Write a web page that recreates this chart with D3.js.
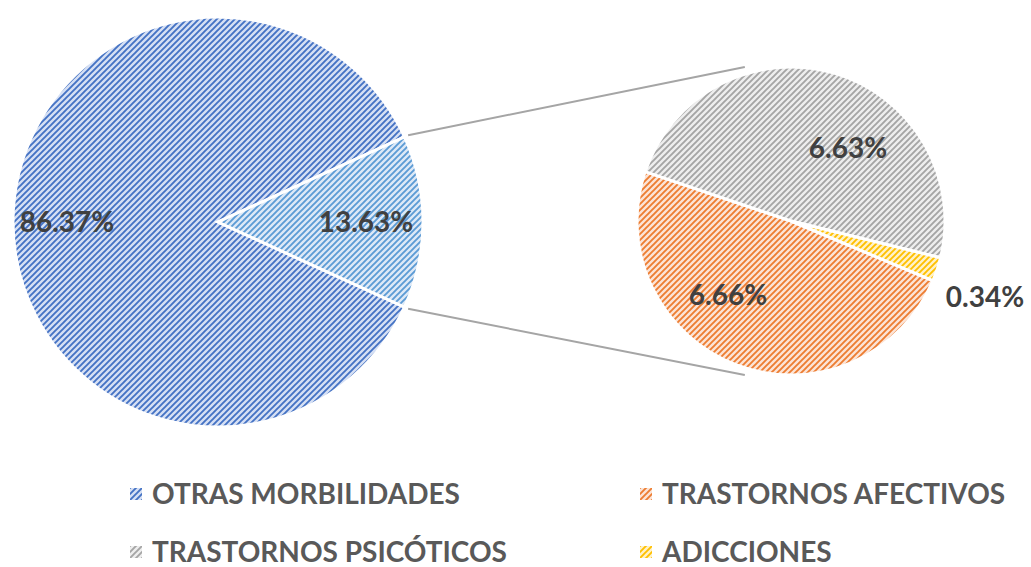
<!DOCTYPE html>
<html>
<head>
<meta charset="utf-8">
<script src="https://cdn.jsdelivr.net/npm/d3@7"></script>
<style>
  body { margin: 0; background: #fff; }
  svg text { font-family: Lato, "Open Sans", sans-serif; font-weight: bold; }
</style>
</head>
<body>
<script>
// main pie
const mainLabels = ["OTRAS MORBILIDADES", "SALUD MENTAL"];
const mainValues = [86.37, 13.63];
// second pie (breakdown of 13.63%)
const subLabels = ["TRASTORNOS AFECTIVOS", "TRASTORNOS PSICÓTICOS", "ADICCIONES"];
const subValues = [6.66, 6.63, 0.34];
const legendLabels = ["OTRAS MORBILIDADES", "TRASTORNOS AFECTIVOS", "TRASTORNOS PSICÓTICOS", "ADICCIONES"];

const width = 1031, height = 567;
const svg = d3.select("body").append("svg")
  .attr("width", width)
  .attr("height", height);

// pattern: fg colour lines on a light bg, "wide upward diagonal"
const patterns = [
  {id: "p-blue",  fg: "#4472c4", bg: "#d6e0f4"},
  {id: "p-lblue", fg: "#5b9bd5", bg: "#dde9f7"},
  {id: "p-orange",fg: "#ed7d31", bg: "#fce4d6"},
  {id: "p-gray",  fg: "#a5a5a5", bg: "#eeeeee"},
  {id: "p-yellow",fg: "#ffc000", bg: "#fff2c8"}
];
const defs = svg.append("defs");
patterns.forEach(p => {
  let pat = defs.append("pattern")
    .attr("id", p.id)
    .attr("patternUnits", "userSpaceOnUse")
    .attr("width", 6).attr("height", 6);
  pat.append("rect").attr("width", 6).attr("height", 6).attr("fill", p.bg);
  pat.append("path")
    .attr("d", "M-1,1 l2,-2 M0,6 l6,-6 M5,7 l2,-2")
    .attr("stroke", p.fg)
    .attr("stroke-width", 1.9);
});

const mainC = {x: 218, y: 222, r: 205};
const subC = {x: 791, y: 221, r: 154};
const deg = Math.PI / 180;

// main pie, small slice centred on the right
const mainSmallAngle = 2 * Math.PI * mainValues[1] / d3.sum(mainValues);
const mainPie = d3.pie().sort(null)
  .startAngle(Math.PI / 2 + mainSmallAngle / 2)
  .endAngle(Math.PI / 2 + mainSmallAngle / 2 + 2 * Math.PI);
const mainArc = d3.arc().innerRadius(0).outerRadius(mainC.r);

const gMain = svg.append("g").attr("transform", `translate(${mainC.x},${mainC.y})`);
gMain.selectAll("path")
  .data(mainPie(mainValues))
  .enter().append("path")
  .attr("d", mainArc)
  .attr("fill", (d, i) => `url(#${i == 0 ? "p-blue" : "p-lblue"})`)
  .attr("stroke", "#fff")
  .attr("stroke-width", 3);

// second pie
const subStart = 112.8 * deg;
const subPie = d3.pie().sort(null)
  .startAngle(subStart)
  .endAngle(subStart + 2 * Math.PI);
const subArcs = subPie(subValues);
const subArc = d3.arc().innerRadius(0).outerRadius(subC.r);
const subFill = ["p-orange", "p-gray", "p-yellow"];

// connector lines
const a1 = Math.PI / 2 - mainSmallAngle / 2, a2 = Math.PI / 2 + mainSmallAngle / 2;
const pt = (c, a, r) => [c.x + r * Math.sin(a), c.y - r * Math.cos(a)];
const connectors = [
  [pt(mainC, a1, mainC.r + 4), [subC.x - 0.3 * subC.r, subC.y - subC.r]],
  [pt(mainC, a2, mainC.r + 4), [subC.x - 0.3 * subC.r, subC.y + subC.r]]
];
svg.selectAll(".conn")
  .data(connectors)
  .enter().append("line")
  .attr("class", "conn")
  .attr("x1", d => d[0][0]).attr("y1", d => d[0][1])
  .attr("x2", d => d[1][0]).attr("y2", d => d[1][1])
  .attr("stroke", "#a5a5a5")
  .attr("stroke-width", 2);

const gSub = svg.append("g").attr("transform", `translate(${subC.x},${subC.y})`);
gSub.selectAll("path")
  .data(subArcs)
  .enter().append("path")
  .attr("d", subArc)
  .attr("fill", (d, i) => `url(#${subFill[i]})`)
  .attr("stroke", "#fff")
  .attr("stroke-width", 3);

// labels
const fmt = v => v.toFixed(2) + "%";
const mainLabelPos = [[67, 222], [366, 222]];
svg.selectAll(".mlabel")
  .data(mainValues)
  .enter().append("text")
  .attr("class", "mlabel")
  .attr("x", (d, i) => mainLabelPos[i][0])
  .attr("y", (d, i) => mainLabelPos[i][1])
  .attr("dy", "0.36em")
  .attr("text-anchor", "middle")
  .attr("fill", "#404040")
  .attr("font-size", 28)
  .text(fmt);

const subLabelPos = [[728, 295], [848, 148], [985, 297]];
svg.selectAll(".slabel")
  .data(subValues)
  .enter().append("text")
  .attr("class", "slabel")
  .attr("x", (d, i) => subLabelPos[i][0])
  .attr("y", (d, i) => subLabelPos[i][1])
  .attr("dy", "0.36em")
  .attr("text-anchor", "middle")
  .attr("fill", "#404040")
  .attr("font-size", 28)
  .text(fmt);

// legend
const legendFill = ["p-blue", "p-orange", "p-gray", "p-yellow"];
const legend = svg.selectAll(".legend")
  .data(legendLabels)
  .enter().append("g")
  .attr("class", "legend")
  .attr("transform", (d, i) => `translate(${i % 2 == 0 ? 130 : 640},${i < 2 ? 494 : 552})`);
legend.append("rect")
  .attr("x", 0).attr("y", -6)
  .attr("width", 12).attr("height", 12)
  .attr("fill", (d, i) => `url(#${legendFill[i]})`);
legend.append("text")
  .attr("x", 22)
  .attr("dy", "0.36em")
  .attr("fill", "#595959")
  .attr("font-size", 28)
  .text(d => d);
</script>
</body>
</html>
